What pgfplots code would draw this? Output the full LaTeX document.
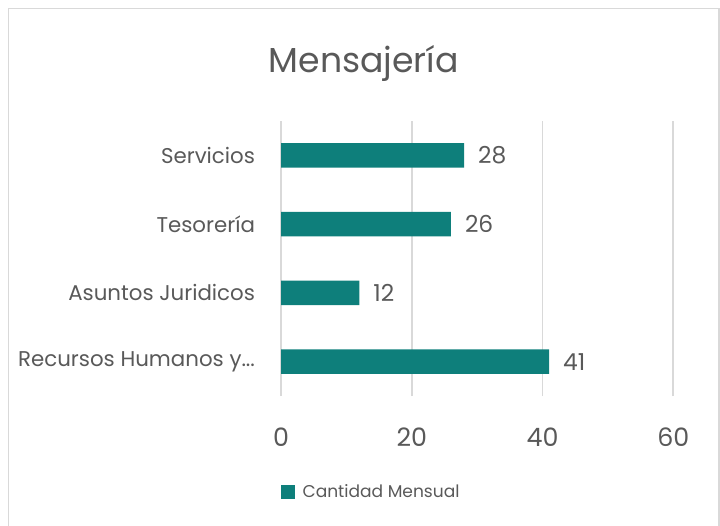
\documentclass[border=0pt]{standalone}
\usepackage{pgfplots}
\pgfplotsset{compat=1.18}
\usepackage{fontspec}
\setmainfont{Poppins}
\definecolor{barc}{HTML}{0E7F7B}
\definecolor{txt}{HTML}{595959}
\definecolor{grd}{HTML}{D9D9D9}
\begin{document}
\begin{tikzpicture}
\useasboundingbox (0,0) rectangle (540pt,-393.75pt);
\draw[grd, line width=1.2pt] (6.4pt,-6.4pt) rectangle (539.4pt,-400pt);
\node[anchor=base, text=txt, font=\fontsize{26}{30}\selectfont] at (272.8pt,-54pt) {Mensajería};
\begin{axis}[
  at={(210.75pt,-297pt)}, anchor=south west,
  scale only axis, width=294.2pt, height=206.25pt,
  xbar, bar width=18.45pt,
  xmin=0, xmax=60, ymin=-0.5, ymax=3.5,
  xtick={0,20,40,60},
  ytick={0,1,2,3},
  yticklabels={{Recursos Humanos y.{}.{}.},{Asuntos Juridicos},{Tesorería},{Servicios}},
  xmajorgrids, major grid style={grd, line width=1.3pt},
  axis line style={draw=none},
  major tick length=0pt,
  /pgf/number format/assume math mode=true,
  xticklabel style={anchor=center, yshift=-30.75pt, text=txt, font=\fontsize{19}{22}\selectfont},
  yticklabel style={anchor=east, xshift=-16pt, text=txt, font=\fontsize{16}{19}\selectfont},
  nodes near coords,
  every node near coord/.append style={anchor=west, xshift=7pt, text=txt, font=\fontsize{17.5}{20}\selectfont},
  legend style={at={(axis description cs:0,-0.349)}, anchor=west, draw=none, fill=none, inner sep=0pt,
    font=\fontsize{12.8}{15}\selectfont, text=txt},
  legend image code/.code={\fill[barc] (0pt,-5pt) rectangle (10pt,5pt); \path (14pt,0pt);},
]
\addplot[fill=barc, draw=none] coordinates {(41,0) (12,1) (26,2) (28,3)};
\addlegendentry{Cantidad Mensual}
\end{axis}
\end{tikzpicture}
\end{document}
